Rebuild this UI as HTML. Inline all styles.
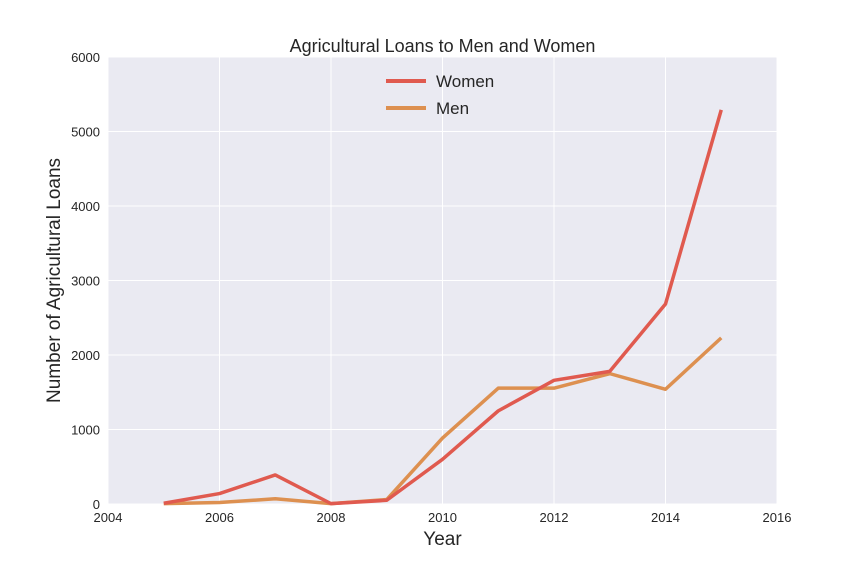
<!DOCTYPE html>
<html><head><meta charset="utf-8"><style>
body{margin:0;background:#fff;}
svg{display:block;font-family:"Liberation Sans",sans-serif;}
</style></head><body>
<svg id="chart" width="864" height="576" viewBox="0 0 864 576">
<rect x="108" y="57" width="669" height="447" fill="#eaeaf2"/>
<g id="grid"></g>
<g id="ticks"></g>
<g id="lines"></g>
<text x="442.5" y="52" text-anchor="middle" font-size="18" fill="#262626">Agricultural Loans to Men and Women</text>
<text x="442.5" y="545" text-anchor="middle" font-size="19" fill="#262626">Year</text>
<text transform="translate(60,280.5) rotate(-90)" text-anchor="middle" font-size="19" fill="#262626">Number of Agricultural Loans</text>
<g>
<line x1="386" y1="81" x2="426" y2="81" stroke="#e05a4f" stroke-width="4"/>
<text x="436" y="87" font-size="17" fill="#262626">Women</text>
<line x1="386" y1="108" x2="426" y2="108" stroke="#dd9050" stroke-width="4"/>
<text x="436" y="114" font-size="17" fill="#262626">Men</text>
</g>
</svg>
<script>
const years=[2005,2006,2007,2008,2009,2010,2011,2012,2013,2014,2015];
const women=[10,140,390,5,50,600,1250,1660,1780,2685,5290];
const men=[5,20,70,5,60,885,1555,1555,1750,1540,2230];
const xTicks=[2004,2006,2008,2010,2012,2014,2016];
const yTicks=[0,1000,2000,3000,4000,5000,6000];
const NS="http://www.w3.org/2000/svg";
const x=v=>108+(v-2004)/12*669;
const y=v=>504-v/6000*447;
function mk(tag,attrs,parent){const e=document.createElementNS(NS,tag);for(const k in attrs)e.setAttribute(k,attrs[k]);parent.appendChild(e);return e;}
const grid=document.getElementById('grid'),ticks=document.getElementById('ticks'),lines=document.getElementById('lines');
xTicks.forEach(t=>{
 const l=mk('line',{x1:x(t),x2:x(t),y1:57,y2:504,stroke:'#fff','stroke-width':1},grid);
 
 
 const tx=mk('text',{x:x(t),y:522,'text-anchor':'middle','font-size':13,fill:'#262626'},ticks);
 tx.textContent=t;
 
 
});
yTicks.forEach(t=>{
 const l=mk('line',{x1:108,x2:777,y1:y(t),y2:y(t),stroke:'#fff','stroke-width':1},grid);
 
 
 const tx=mk('text',{x:100,y:y(t)+5,'text-anchor':'end','font-size':13,fill:'#262626'},ticks);
 tx.textContent=t;
 
 
});
function series(vals,color,name){
 const p=mk('polyline',{points:years.map((yr,i)=>x(yr)+','+y(vals[i])).join(' '),fill:'none',stroke:color,'stroke-width':3.5,'stroke-linejoin':'round'},lines);
 
 
}
series(men,'#dd9050','men-line');
series(women,'#e05a4f','women-line');
</script>
</body></html>
